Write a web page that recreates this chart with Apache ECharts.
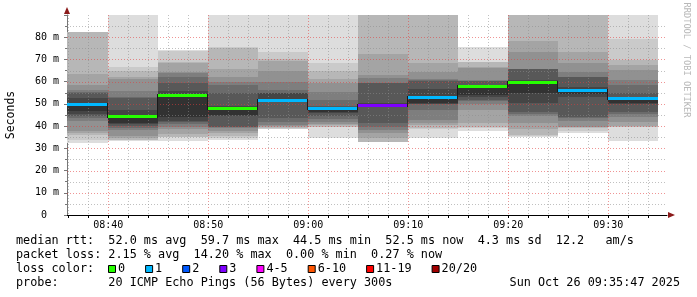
<!DOCTYPE html>
<html>
<head>
<meta charset="utf-8">
<script src="https://cdn.jsdelivr.net/npm/echarts@6/dist/echarts.min.js"></script>
<style>
html,body{margin:0;padding:0;background:#fff;}
#chart{width:697px;height:297px;}
</style>
</head>
<body>
<div id="chart"></div>
<script>
// ---------------- data ----------------
const startTimes = ['08:35','08:40','08:45','08:50','08:55','09:00','09:05','09:10','09:15','09:20','09:25','09:30'];
const medianRtt  = [50.0, 44.5, 53.8, 48.0, 51.7, 48.0, 49.3, 53.2, 58.1, 59.7, 56.2, 52.5];
const lostPings  = [1, 0, 0, 0, 1, 1, 3, 1, 0, 0, 1, 1];
// sorted round-trip times (ms) of the 20 pings of every 300 s step
const smokePings = [
  [32.4,33.9,36.1,37.0,37.6,42.1,43.6,44.5,45.5,46.6,50.0,52.6,54.8,55.5,56.3,58.6,63.4,82.2,82.2,82.2],
  [33.4,33.6,33.9,34.6,35.4,38.3,39.0,39.9,41.0,41.3,44.5,47.3,52.8,53.3,55.6,61.0,61.9,64.9,66.4,96],
  [33.3,35.0,35.2,36.5,38.5,39.7,41.0,41.9,42.5,44.2,53.8,56.0,59.2,62.0,64.0,64.4,68.5,68.9,73.8,74.2],
  [33.7,34.8,35.5,36.7,38.0,39.2,39.5,39.7,44.5,44.9,48.0,49.0,54.7,58.5,59.7,62.2,65.9,75.2,75.4,96],
  [38.5,38.8,39.2,39.7,40.0,40.4,42.0,43.5,50.9,51.2,51.7,54.7,55.0,56.2,60.0,64.7,69.5,70.0,73.4,96],
  [34.5,39.6,39.7,40.3,41.0,41.9,43.0,44.5,45.7,46.5,48.0,48.5,49.0,51.7,55.4,59.2,61.4,64.9,68.2,96],
  [32.9,32.9,32.9,34.5,37.0,38.3,39.5,41.2,48.5,48.8,49.3,50.2,59.2,59.5,61.5,62.9,72.3,96,96,96],
  [34.7,38.8,39.0,40.5,41.5,42.7,47.2,49.8,50.0,50.2,53.2,56.9,60.5,60.8,61.2,64.5,68.2,96,96,96],
  [37.8,39.0,39.7,41.2,47.2,50.0,51.5,51.7,53.0,53.9,58.1,58.6,60.3,60.5,60.7,66.0,66.5,68.9,69.0,75.4],
  [35.0,35.5,36.0,38.5,41.2,44.5,45.5,46.4,50.5,54.7,59.7,60.7,65.5,65.7,65.9,73.4,78.3,96,96,96],
  [36.7,38.0,39.0,39.5,39.7,42.5,43.5,44.2,53.2,54.5,56.2,57.7,62.0,62.2,64.4,68.2,73.4,96,96,96],
  [33.4,39.7,39.8,39.9,42.0,44.2,45.5,46.4,50.0,50.2,52.5,53.2,55.0,58.4,60.7,65.2,67.5,69.7,79.0,96]
];
const xTickLabels   = ['08:40','08:50','09:00','09:10','09:20','09:30'];
const yTickValues   = [0,10,20,30,40,50,60,70,80];
const lossLabels    = ['0','1','2','3','4-5','6-10','11-19','20/20'];
const lossColors    = ['#26ff00','#00b8ff','#0059ff','#7e00ff','#ff00ff','#ff5500','#ff0000','#a10000'];
const statsRow1 = 'median rtt:  52.0 ms avg  59.7 ms max  44.5 ms min  52.5 ms now  4.3 ms sd  12.2   am/s';
const statsRow2 = 'packet loss: 2.15 % avg  14.20 % max  0.00 % min  0.27 % now';
const probeRow  = 'probe:       20 ICMP Echo Pings (56 Bytes) every 300s';
const stampText = 'Sun Oct 26 09:35:47 2025';
const sideText  = 'RRDTOOL / TOBI OETIKER';

// ---------------- helpers ----------------
const toMin = s => { const p = s.split(':').map(Number); return p[0]*60 + p[1]; };
const fmtMin = v => { const h = Math.floor(v/60), m = Math.round(v - h*60); return String(h).padStart(2,'0') + ':' + String(m).padStart(2,'0'); };
const STEP = 5;                       // minutes per step (300 s)
const X_MIN = toMin('08:35') + 52/60; // 08:35:52
const X_MAX = X_MIN + 60;
const Y_MAX = 90;
const MONO = '"DejaVu Sans Mono", monospace';

function lossIndex(n) {
  if (n <= 3) return n;
  if (n <= 5) return 4;
  if (n <= 10) return 5;
  if (n <= 19) return 6;
  return 7;
}

const minorX = [];
for (let m = Math.ceil(X_MIN/2)*2; m <= X_MAX; m += 2) minorX.push(m);
const minorY = [];
for (let v = 5; v < Y_MAX; v += 5) minorY.push(v);

function renderSmoke(params, api) {
  const i = params.dataIndex;
  const t0 = api.value(0);
  const cs = params.coordSys;
  const p = smokePings[i];
  const xa = Math.max(cs.x, Math.round(api.coord([t0, 0])[0]));
  const xb = Math.min(cs.x + cs.width, Math.round(api.coord([t0 + STEP, 0])[0]));
  const children = [];
  for (let k = 0; k < 10; k++) {
    const lo = Math.min(p[k], Y_MAX), hi = Math.min(p[19-k], Y_MAX);
    const ya = Math.round(api.coord([t0, hi])[1]);
    const yb = Math.round(api.coord([t0, lo])[1]);
    const g = 221 - 19*k;
    children.push({type:'rect', shape:{x:xa, y:ya, width:xb-xa, height:Math.max(0,yb-ya)},
      style:{fill:'rgb('+g+','+g+','+g+')'}});
  }
  return {type:'group', children};
}

function renderMedian(params, api) {
  const i = params.dataIndex;
  const t0 = api.value(0), med = api.value(1);
  const cs = params.coordSys;
  const xa = Math.max(cs.x, Math.round(api.coord([t0, 0])[0]));
  const xb = Math.min(cs.x + cs.width, Math.round(api.coord([t0 + STEP, 0])[0]));
  const y = Math.round(api.coord([t0, med])[1]);
  const children = [];
  if (i > 0) {
    const yp = Math.round(api.coord([t0, medianRtt[i-1]])[1]);
    children.push({type:'rect', shape:{x:xa-1, y:Math.min(y,yp)-1, width:1, height:Math.abs(y-yp)+3}, style:{fill:'#1a1a1a'}});
  }
  children.push({type:'rect', shape:{x:xa, y:y-1, width:xb-xa, height:3}, style:{fill:lossColors[lossIndex(lostPings[i])]}});
  return {type:'group', children};
}

function renderVGrid(params, api) {
  const cs = params.coordSys;
  const v = api.value(0);
  const x = Math.round(api.coord([v, 0])[0]) + 0.5;
  const major = Math.abs(v % 10) < 1e-6;
  return {type:'line', shape:{x1:x, y1:cs.y, x2:x, y2:cs.y+cs.height},
    style:{stroke: major ? 'rgba(225,60,60,0.55)' : 'rgba(140,140,140,0.55)', lineWidth:1, lineDash:[1,2]}};
}
function renderHGrid(params, api) {
  const cs = params.coordSys;
  const v = api.value(1);
  const y = Math.round(api.coord([X_MIN, v])[1]) + 0.5;
  const major = Math.abs(v % 10) < 1e-6;
  return {type:'line', shape:{x1:cs.x, y1:y, x2:cs.x+cs.width, y2:y},
    style:{stroke: major ? 'rgba(225,60,60,0.55)' : 'rgba(140,140,140,0.55)', lineWidth:1, lineDash:[1,2]}};
}

// ---------------- legend graphics ----------------
const graphics = [];
const rowFont = '11.8px ' + MONO;
graphics.push({type:'text', x:16, y:241, style:{text:statsRow1, font:rowFont, fill:'#000', verticalAlign:'middle'}});
graphics.push({type:'text', x:16, y:255, style:{text:statsRow2, font:rowFont, fill:'#000', verticalAlign:'middle'}});
graphics.push({type:'text', x:16, y:269, style:{text:'loss color:', font:rowFont, fill:'#000', verticalAlign:'middle'}});
graphics.push({type:'text', x:16, y:283, style:{text:probeRow, font:rowFont, fill:'#000', verticalAlign:'middle'}});
graphics.push({type:'text', x:680, y:283, style:{text:stampText, font:rowFont, fill:'#000', align:'right', verticalAlign:'middle'}});
let lx = 108;
lossLabels.forEach((lab, k) => {
  graphics.push({type:'rect', shape:{x:lx+0.5, y:265.5, width:7, height:7}, style:{fill:lossColors[k], stroke:'#000', lineWidth:1}});
  graphics.push({type:'text', x:lx+10, y:269, style:{text:lab, font:rowFont, fill:'#000', verticalAlign:'middle'}});
  lx += 10 + lab.length*7.1 + 20;
});
graphics.push({type:'text', x:686, y:60, rotation:-Math.PI/2,
  style:{text:sideText, font:'8.7px ' + MONO, fill:'#b8b8b8', align:'center', verticalAlign:'middle'}});
// axis arrows
graphics.push({type:'polygon', shape:{points:[[64,14],[70,14],[67,7]]}, style:{fill:'#8b1a1a'}});
graphics.push({type:'polygon', shape:{points:[[668,212],[668,218],[675,215]]}, style:{fill:'#8b1a1a'}});

const chart = echarts.init(document.getElementById('chart'), null, {renderer:'canvas'});
chart.setOption({
  animation: false,
  backgroundColor: '#ffffff',
  grid: {left:67, right:30, top:15, bottom:82, containLabel:false, outerBoundsMode:'none'},
  xAxis: {
    type:'value', min:X_MIN, max:X_MAX,
    axisLine:{show:true, onZero:false, lineStyle:{color:'#000', width:1}},
    axisTick:{show:true, customValues: minorX, length:3, lineStyle:{color:'#000'}},
    axisLabel:{customValues: xTickLabels.map(toMin), formatter: v => fmtMin(v),
      fontFamily:MONO, fontSize:10, color:'#000', margin:5},
    splitLine:{show:false}
  },
  yAxis: {
    type:'value', min:0, max:Y_MAX, interval:10,
    name:'Seconds', nameLocation:'middle', nameGap:50,
    nameTextStyle:{fontFamily:MONO, fontSize:11.5, color:'#000'},
    axisLine:{show:true, lineStyle:{color:'#777', width:1}},
    axisTick:{show:true, length:3, lineStyle:{color:'#777'}},
    minorTick:{show:true, splitNumber:2, length:2, lineStyle:{color:'#777'}},
    axisLabel:{formatter: v => yTickValues.indexOf(v) < 0 ? '' : (v === 0 ? '0  ' : v + ' m'),
      showMaxLabel:false, fontFamily:MONO, fontSize:10, color:'#000', margin:8},
    splitLine:{show:false}
  },
  series: [
    {type:'custom', name:'smoke', z:2, silent:true, renderItem:renderSmoke,
     encode:{x:0, y:1}, data: startTimes.map((t,i) => [toMin(t), medianRtt[i]])},
    {type:'custom', name:'vgrid', z:3, silent:true, renderItem:renderVGrid,
     encode:{x:0, y:1}, data: minorX.map(m => [m, 0])},
    {type:'custom', name:'hgrid', z:3, silent:true, renderItem:renderHGrid,
     encode:{x:0, y:1}, data: minorY.map(v => [X_MIN, v])},
    {type:'custom', name:'median', z:4, silent:true, renderItem:renderMedian,
     encode:{x:0, y:1}, data: startTimes.map((t,i) => [toMin(t), medianRtt[i]])}
  ],
  graphic: graphics
});
</script>
</body>
</html>
